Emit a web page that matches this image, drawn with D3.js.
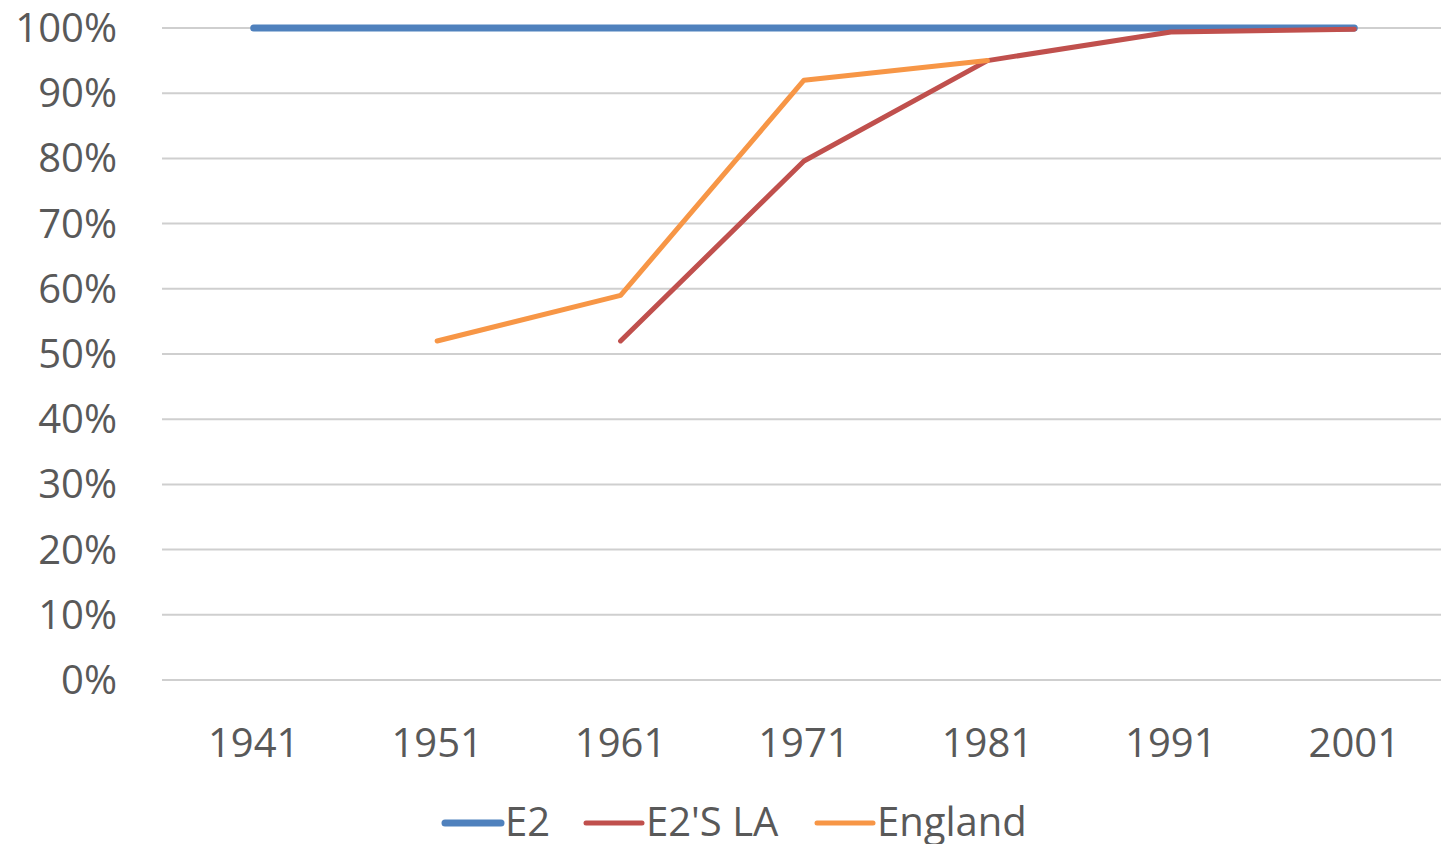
<!DOCTYPE html>
<html>
<head>
<meta charset="utf-8">
<script src="https://cdn.jsdelivr.net/npm/d3@7"></script>
<style>
  html, body { margin: 0; padding: 0; background: #fff; overflow: hidden; }
  svg { display: block; }
  text { font-family: "Open Sans", sans-serif; fill: #595959; }
</style>
</head>
<body>
<svg id="chart" width="1441" height="844"></svg>
<script>
// ─── Data ─────────────────────────────────────────────────────────────────────

const years = ["1941", "1951", "1961", "1971", "1981", "1991", "2001"];
const yTicks = [0, 0.1, 0.2, 0.3, 0.4, 0.5, 0.6, 0.7, 0.8, 0.9, 1.0];

const e2 = [1.0, 1.0, 1.0, 1.0, 1.0, 1.0, 1.0];
const e2La = [null, null, 0.52, 0.796, 0.95, 0.994, 0.998];
const england = [null, 0.52, 0.59, 0.92, 0.95, null, null];

const series = [
  { name: "E2", values: e2, color: "#4f81bd", width: 7 },
  { name: "E2'S LA", values: e2La, color: "#c0504d", width: 5 },
  { name: "England", values: england, color: "#f79646", width: 5 },
];

// ─── Chart ────────────────────────────────────────────────────────────────────

const svg = d3.select("#chart");
const plot = { left: 162, right: 1446, top: 28, bottom: 680 };

const x = d3.scaleBand().domain(years).range([plot.left, plot.right]);
const y = d3.scaleLinear().domain([0, 1]).range([plot.bottom, plot.top]);

// Grid lines
svg.append("g")
  .selectAll("line")
  .data(yTicks)
  .join("line")
  .attr("x1", plot.left)
  .attr("x2", 1441)
  .attr("y1", d => y(d))
  .attr("y2", d => y(d))
  .attr("stroke", "#cfcfcf")
  .attr("stroke-width", 2);

// Y labels
svg.append("g")
  .selectAll("text")
  .data(yTicks)
  .join("text")
  .attr("x", 117)
  .attr("y", d => y(d))
  .attr("dy", "0.35em")
  .attr("text-anchor", "end")
  .attr("font-size", "40px")
  .text(d => d3.format(".0%")(d));

// X labels
svg.append("g")
  .selectAll("text")
  .data(years)
  .join("text")
  .attr("x", d => x(d) + x.bandwidth() / 2)
  .attr("y", 757)
  .attr("text-anchor", "middle")
  .attr("font-size", "40px")
  .text(d => d);

// Lines
const line = d3.line()
  .defined(d => d.v != null)
  .x(d => x(d.year) + x.bandwidth() / 2)
  .y(d => y(d.v));

series.forEach(s => {
  svg.append("path")
    .datum(years.map((year, i) => ({ year, v: s.values[i] })))
    .attr("d", line)
    .attr("fill", "none")
    .attr("stroke", s.color)
    .attr("stroke-width", s.width)
    .attr("stroke-linecap", "round")
    .attr("stroke-linejoin", "round");
});

// Legend
const legendX = [445, 586, 817];
const legend = svg.append("g");
series.forEach((s, i) => {
  legend.append("line")
    .attr("x1", legendX[i])
    .attr("x2", legendX[i] + 56)
    .attr("y1", 823)
    .attr("y2", 823)
    .attr("stroke", s.color)
    .attr("stroke-width", s.width)
    .attr("stroke-linecap", "round");
  legend.append("text")
    .attr("x", legendX[i] + 60)
    .attr("y", 836)
    .attr("font-size", "40px")
    .text(s.name);
});
</script>
</body>
</html>
